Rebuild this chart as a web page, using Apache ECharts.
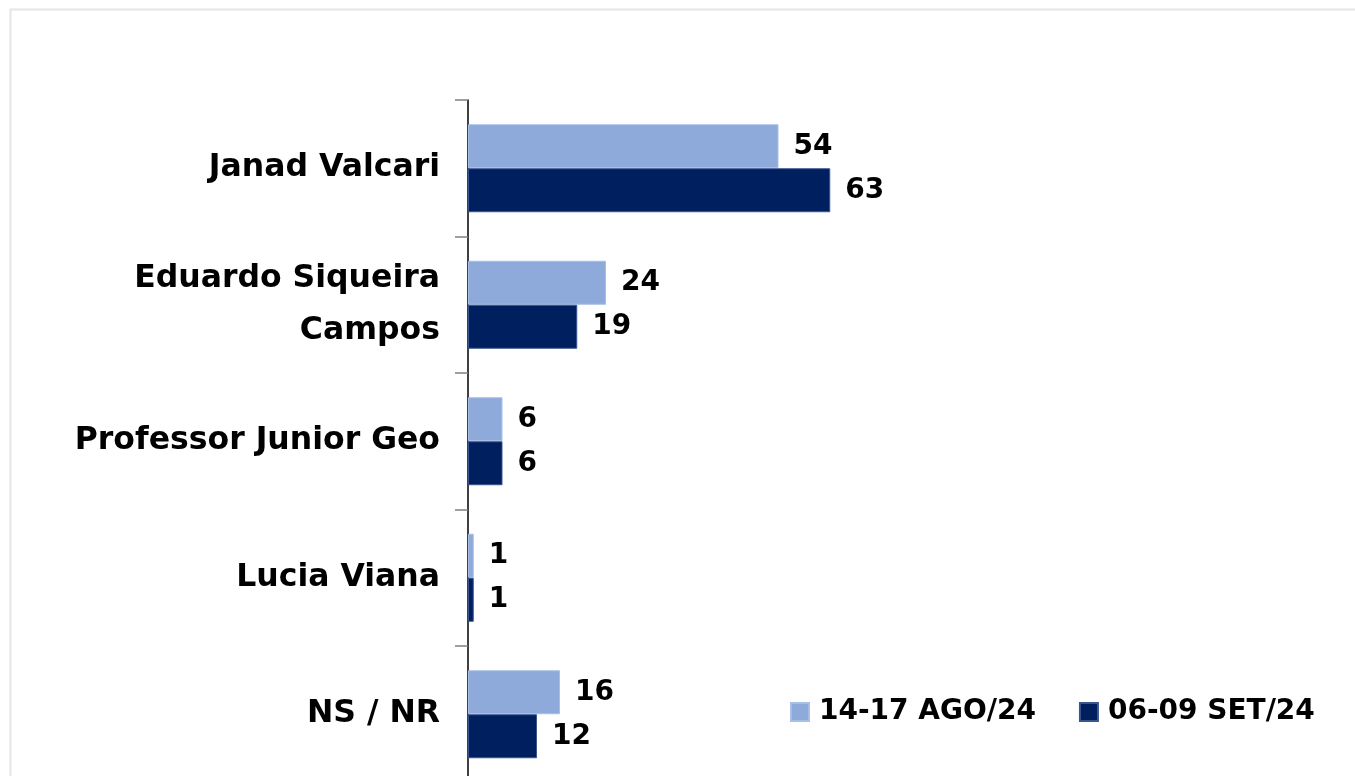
<!DOCTYPE html>
<html>
<head>
<meta charset="utf-8">
<script src="https://cdn.jsdelivr.net/npm/echarts@6/dist/echarts.min.js"></script>
<style>
html,body{margin:0;padding:0;background:#fff;}
#c{width:1355px;height:776px;}
</style>
</head>
<body>
<div id="c"></div>
<script>
const categories = ['Janad Valcari', 'Eduardo Siqueira\nCampos', 'Professor Junior Geo', 'Lucia Viana', 'NS / NR'];
const seriesNames = ['14-17 AGO/24', '06-09 SET/24'];
const agoValues = [54, 24, 6, 1, 16];
const setValues = [63, 19, 6, 1, 12];

const FONT = '"DejaVu Sans", sans-serif';
const chart = echarts.init(document.getElementById('c'), null, {renderer: 'canvas'});
const labelStyle = {
  show: true, position: 'right', distance: 15,
  color: '#000', fontWeight: 'bold', fontSize: 28, fontFamily: FONT
};
chart.setOption({
  backgroundColor: '#fff',
  animation: false,
  graphic: [{
    type: 'rect', silent: true,
    shape: {x: 10.5, y: 9.5, width: 1400, height: 800},
    style: {fill: 'none', stroke: '#e6e6e6', lineWidth: 2}
  }],
  legend: {
    left: 785, top: 693,
    itemWidth: 18, itemHeight: 18, itemGap: 43,
    icon: 'rect',
    textStyle: {fontSize: 28, fontWeight: 'bold', color: '#000', fontFamily: FONT, padding: [0, 0, 0, 5]},
    data: seriesNames
  },
  grid: {left: 468, top: 100, width: 575, height: 682.5, containLabel: false, outerBoundsMode: 'none'},
  xAxis: {
    type: 'value', min: 0, max: 100, show: false
  },
  yAxis: {
    type: 'category', inverse: true, data: categories,
    axisLine: {show: true, lineStyle: {color: '#000', width: 1.5}},
    axisTick: {show: true, length: 13, lineStyle: {color: '#808080', width: 1.5}},
    axisLabel: {
      margin: 28, color: '#000', fontWeight: 'bold', fontSize: 31.5,
      fontFamily: FONT, align: 'right', lineHeight: 52, padding: [5, 0, 0, 0]
    },
    splitLine: {show: false}
  },
  series: [
    {
      name: seriesNames[0], type: 'bar', data: agoValues,
      barWidth: 44, barGap: '0%',
      itemStyle: {color: '#8eaadb', borderColor: '#a9bfe5', borderWidth: 1},
      label: labelStyle
    },
    {
      name: seriesNames[1], type: 'bar', data: setValues,
      barWidth: 44, barGap: '0%',
      itemStyle: {color: '#001f5f', borderColor: '#3a5590', borderWidth: 1},
      label: labelStyle
    }
  ]
});
</script>
</body>
</html>
